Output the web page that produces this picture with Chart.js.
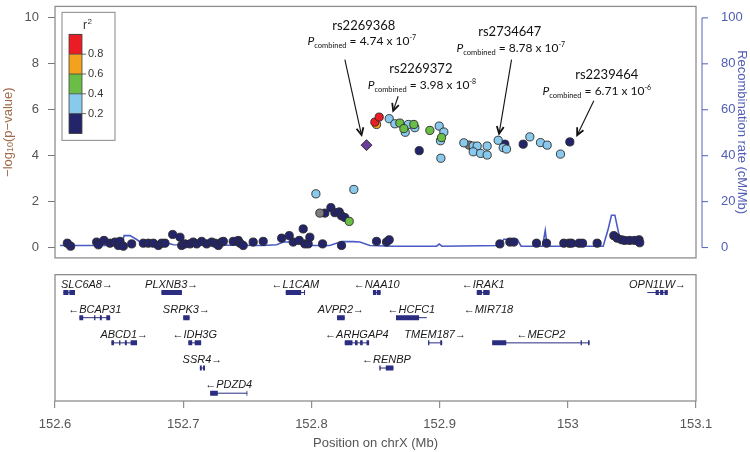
<!DOCTYPE html>
<html><head><meta charset="utf-8">
<script src="https://cdn.jsdelivr.net/npm/chart.js@4.4.1/dist/chart.umd.min.js"></script>
<style>html,body{margin:0;padding:0;background:#fff;}#wrap{width:750px;height:452px;position:relative;}</style>
</head><body><div id="wrap"><canvas id="c" width="750" height="452"></canvas></div>
<script>
// ---------------- DATA ----------------
const xTickValues = [152.6, 152.7, 152.8, 152.9, 153.0, 153.1];
const logPTicks = [0, 2, 4, 6, 8, 10];
const recombTicks = [0, 20, 40, 60, 80, 100];
const r2LegendTicks = ['0.8', '0.6', '0.4', '0.2'];

// r2 < 0.2 (navy)
const navyPos = [152.6096,152.6122,152.6325,152.6338,152.6382,152.6429,152.6468,152.6494,152.6507,152.6533,
  152.6598,152.6689,152.6728,152.6767,152.6806,152.6832,152.6858,
  152.6918,152.6975,152.6988,152.7014,152.7053,152.7078,152.7105,152.7144,152.7183,152.7222,152.7248,152.7274,152.7300,152.7313,
  152.7390,152.7429,152.7443,152.7468,152.7546,152.7624,
  152.7768,152.7827,152.7858,152.7905,152.7936,152.7949,152.7975,152.7988,152.8087,152.8235,
  152.8105,152.8152,152.8183,152.8217,152.8235,152.8261,
  152.8508,152.8586,152.8607,152.8841,
  152.9470,152.9509,152.9548,152.9579,152.9652,
  152.9756,152.9834,152.9969,153.0010,153.0016,153.0029,153.0088,153.0115,153.0229,
  153.0359,153.0385,153.0419,153.0444,153.0483,153.0522,153.0556,153.0561];
const navyLogP = [0.19,0.06,0.24,0.12,0.31,0.19,0.24,0.09,0.27,0.06,
  0.16,0.19,0.19,0.19,0.09,0.19,0.19,
  0.57,0.45,0.09,0.16,0.16,0.24,0.16,0.27,0.16,0.24,0.19,0.09,0.24,0.27,
  0.27,0.31,0.19,0.09,0.24,0.27,
  0.41,0.52,0.24,0.31,0.81,0.16,0.16,0.45,0.16,0.09,
  1.50,1.74,1.52,1.55,1.38,1.31,
  0.27,0.24,0.34,4.22,
  0.16,4.50,0.24,0.24,4.50,
  0.19,0.19,0.19,0.19,4.60,0.19,0.19,0.19,0.19,
  0.52,0.41,0.34,0.31,0.31,0.31,0.34,0.21];
// 0.2 - 0.4 (light blue)
const lightBluePos = [152.8035,152.8331,152.8607,152.8651,152.8732,152.8756,152.8807,152.8997,152.9033,152.9007,152.9010,
  152.9189,152.9262,152.9293,152.9262,152.9320,152.9371,152.9371,152.9457,152.9496,152.9522,152.9704,152.9787,152.9839,152.9943];
const lightBlueLogP = [2.34,2.53,5.61,5.39,5.02,5.36,5.22,5.29,5.03,4.65,3.89,
  4.56,4.42,4.42,4.17,4.10,4.42,4.03,4.67,4.35,4.29,4.82,4.57,4.46,4.07];
// 0.4 - 0.6 (green)
const greenPos = [152.8295,152.8690,152.8721,152.8799,152.8924,152.9015];
const greenLogP = [1.14,5.42,5.18,5.36,5.10,4.79];
// 0.6 - 0.8 (orange)
const orangePos = [152.8508];
const orangeLogP = [5.36];
// 0.8 - 1 (red)
const redPos = [152.8495,152.8529];
const redLogP = [5.46,5.68];
// no LD information (grey)
const greyPos = [152.8066,152.9231];
const greyLogP = [1.50,4.46];
// reference SNP (purple diamond)
const refPos = [152.8430];
const refLogP = [4.46];

// recombination rate (cM/Mb)
const recombPos = [152.6039,152.6520,152.6539,152.6585,152.6637,152.6676,152.6884,152.6923,152.7624,152.7729,152.7781,152.7884,152.7920,
  152.8014,152.8144,152.8235,152.8326,152.8378,152.8456,152.8638,152.8976,152.8997,152.9018,152.9470,152.9501,152.9605,152.9636,
  152.9803,152.9824,152.9839,153.0276,153.0315,153.0341,153.0367,153.0401,153.0432,153.0562];
const recombRate = [0.9,0.9,5.2,5.2,3.5,1.9,1.9,1.2,0.9,1.2,2.4,2.4,1.5,
  0.9,0.9,2.6,2.6,2.4,0.9,0.6,0.6,1.5,0.6,0.9,3.6,3.6,0.6,
  0.6,7.4,0.6,0.6,8.1,14.1,14.1,5.2,2.6,2.4];

// genes
const geneNames  = ['SLC6A8','PLXNB3','L1CAM','NAA10','IRAK1','OPN1LW','BCAP31','SRPK3','AVPR2','HCFC1','MIR718','ABCD1','IDH3G','ARHGAP4','TMEM187','MECP2','SSR4','RENBP','PDZD4'];
const geneStrand = ['+','+','-','-','-','+','-','+','+','-','-','+','-','-','+','-','+','-','-'];
const geneRow    = [1,1,1,1,1,1,2,2,2,2,2,3,3,3,3,3,4,4,5];
const geneStart  = [152.6065,152.683,152.780,152.848,152.929,153.062,152.619,152.700,152.820,152.866,152.9378,152.644,152.704,152.826,152.891,152.941,152.713,152.853,152.721];
const geneEnd    = [152.6156,152.699,152.795,152.854,152.939,153.078,152.643,152.705,152.826,152.890,152.9384,152.664,152.714,152.845,152.902,153.017,152.717,152.864,152.750];
const geneExons  = [
  [[152.6065,152.6105],[152.6112,152.6156]],
  [[152.683,152.699]],
  [[152.780,152.792],[152.7942,152.795]],
  [[152.848,152.8505],[152.851,152.854]],
  [[152.929,152.933],[152.934,152.939]],
  [[153.0618,153.0623],[153.0685,153.071],[153.072,153.0745],[153.0755,153.078]],
  [[152.619,152.622],[152.6305,152.6315],[152.635,152.6365],[152.640,152.643]],
  [[152.700,152.705]],
  [[152.820,152.826]],
  [[152.866,152.884],[152.8895,152.890]],
  [[152.9378,152.9384]],
  [[152.644,152.646],[152.650,152.651],[152.6545,152.656],[152.659,152.664]],
  [[152.704,152.707],[152.709,152.714]],
  [[152.826,152.832],[152.834,152.836],[152.838,152.840],[152.843,152.845]],
  [[152.891,152.892],[152.9005,152.902]],
  [[152.941,152.952],[153.010,153.011],[153.0158,153.017]],
  [[152.713,152.7145],[152.7155,152.717]],
  [[152.853,152.854],[152.858,152.864]],
  [[152.721,152.727],[152.7494,152.750]]
];

// annotations
const annotSnp   = ['rs2269368','rs2269372','rs2734647','rs2239464'];
const annotPVal  = ['4.74','3.98','8.78','6.71'];
const annotPExp  = ['-7','-8','-7','-6'];
const annotNameX = [152.8409,152.8854,152.9548,153.0304];
const annotNameY = [9.66,7.80,9.40,7.54];
const annotPX    = [152.8393,152.8862,152.9556,153.0226];
const annotPY    = [9.00,7.08,8.71,6.82];
const arrowFromX = [152.8261,152.8677,152.9561,153.0203];
const arrowFromY = [8.18,6.59,8.18,6.39];
const arrowToX   = [152.8391,152.8638,152.9464,153.0073];
const arrowToY   = [4.90,5.95,4.96,4.89];

// ---------------- STYLE / LAYOUT ----------------
const FF = '"Liberation Sans", Arial, sans-serif';
const AF = 'Lato, "Liberation Sans", sans-serif';
const C_NAVY = '#24246b', C_LB = '#88c9ec', C_GREEN = '#6abd45', C_ORANGE = '#f4a21e', C_RED = '#ec1c24', C_GREY = '#7d7d7d', C_PURPLE = '#6a3d9a';
const C_RECOMB = '#4a5bc4', C_GENE = '#2b2d80', C_FRAME = '#8e8e8e';
const TOP_PANEL_BOTTOM = -0.45;   // in -log10 p units
const GENE_PANEL_TOP = 0.29;      // in gene-row units

function pts(xs, ys) { return xs.map((x, i) => ({x: x, y: ys[i]})); }
function ptDs(label, xs, ys, color, order, style, radius) {
  return {type: 'scatter', label: label, data: pts(xs, ys), yAxisID: 'y', order: order,
    backgroundColor: color, borderColor: '#2a2a2a', borderWidth: 0.9,
    pointStyle: style || 'circle', pointRadius: radius || 4.1, pointHoverRadius: radius || 4.1};
}
const intronData = [], exonData = [];
geneNames.forEach((g, i) => {
  intronData.push({x: geneStart[i], y: geneRow[i]}, {x: geneEnd[i], y: geneRow[i]}, {x: geneEnd[i], y: null});
  geneExons[i].forEach(e => { exonData.push({x: e[0], y: geneRow[i]}, {x: e[1], y: geneRow[i]}, {x: e[1], y: null}); });
});

function noPad(s) { s.paddingTop = 0; s.paddingBottom = 0; s.paddingLeft = 0; s.paddingRight = 0; }

function drawArrow(ctx, x1, y1, x2, y2) {
  ctx.lineWidth = 1.1;
  ctx.beginPath(); ctx.moveTo(x1, y1); ctx.lineTo(x2, y2); ctx.stroke();
  const ang = Math.atan2(y2 - y1, x2 - x1), L = 8, w = 0.45;
  ctx.lineWidth = 1.8;
  ctx.beginPath();
  ctx.moveTo(x2 - L * Math.cos(ang - w), y2 - L * Math.sin(ang - w));
  ctx.lineTo(x2, y2);
  ctx.lineTo(x2 - L * Math.cos(ang + w), y2 - L * Math.sin(ang + w));
  ctx.stroke();
}
function drawPLine(ctx, cx, cy, val, exp) {
  const parts = [
    {t: 'P', f: 'italic 12px ' + AF, dy: 0},
    {t: 'combined', f: '7.5px ' + AF, dy: 3},
    {t: ' = ' + val + ' x 10', f: '12px ' + AF, dy: 0},
    {t: exp, f: '7px ' + AF, dy: -5}
  ];
  let total = 0;
  parts.forEach(p => { ctx.font = p.f; p.w = ctx.measureText(p.t).width; total += p.w; });
  let x = cx - total / 2;
  ctx.textAlign = 'left'; ctx.textBaseline = 'alphabetic';
  parts.forEach(p => { ctx.font = p.f; ctx.fillText(p.t, x, cy + 4 + p.dy); x += p.w; });
}

const locusPlugin = {
  id: 'locus',
  beforeDatasetsDraw(chart) {
    const {ctx, chartArea: a, scales} = chart;
    const tb = scales.y.getPixelForValue(TOP_PANEL_BOTTOM);
    const gt = scales.yG.getPixelForValue(GENE_PANEL_TOP);
    ctx.save();
    ctx.strokeStyle = C_FRAME; ctx.lineWidth = 1.3;
    ctx.strokeRect(a.left, a.top, a.right - a.left, tb - a.top);
    ctx.strokeRect(a.left, gt, a.right - a.left, a.bottom - gt);
    ctx.restore();
  },
  afterDatasetsDraw(chart) {
    const {ctx, chartArea: a, scales} = chart;
    const xs = scales.x, ys = scales.y, yr = scales.yR, yg = scales.yG;
    const tb = ys.getPixelForValue(TOP_PANEL_BOTTOM);
    const midTop = (a.top + tb) / 2;
    ctx.save();
    // gene labels
    ctx.font = 'italic 11px ' + FF; ctx.fillStyle = '#1a1a1a'; ctx.textBaseline = 'alphabetic'; ctx.textAlign = 'left';
    geneNames.forEach((g, i) => {
      const txt = geneStrand[i] === '+' ? g + '\u2192' : '\u2190' + g;
      const w = ctx.measureText(txt).width;
      const cx = (xs.getPixelForValue(geneStart[i]) + xs.getPixelForValue(geneEnd[i])) / 2;
      let left = cx - w / 2;
      left = Math.max(a.left + 6, Math.min(a.right - 6 - w, left));
      ctx.fillText(txt, left, yg.getPixelForValue(geneRow[i]) - 5);
    });
    // right axis line and ticks
    const rx = a.right + 6;
    ctx.strokeStyle = '#5262b8'; ctx.lineWidth = 1;
    ctx.beginPath(); ctx.moveTo(rx, yr.getPixelForValue(recombTicks[0])); ctx.lineTo(rx, yr.getPixelForValue(recombTicks[recombTicks.length - 1])); ctx.stroke();
    recombTicks.forEach(v => { const py = yr.getPixelForValue(v); ctx.beginPath(); ctx.moveTo(rx, py); ctx.lineTo(rx + 6, py); ctx.stroke(); });
    // axis titles
    ctx.save();
    ctx.translate(8, midTop); ctx.rotate(-Math.PI / 2);
    ctx.fillStyle = '#a06b4b'; ctx.textBaseline = 'middle';
    const parts = [{t: '\u2212log', f: '13px ' + FF, dy: 0}, {t: '10', f: '9px ' + FF, dy: 3}, {t: '(p\u2212value)', f: '13px ' + FF, dy: 0}];
    let tw = 0; parts.forEach(p => { ctx.font = p.f; p.w = ctx.measureText(p.t).width; tw += p.w; });
    let tx = -tw / 2; ctx.textAlign = 'left';
    parts.forEach(p => { ctx.font = p.f; ctx.fillText(p.t, tx, p.dy); tx += p.w; });
    ctx.restore();
    ctx.save();
    ctx.translate(742, midTop); ctx.rotate(Math.PI / 2);
    ctx.fillStyle = '#4f5db5'; ctx.font = '13px ' + FF; ctx.textAlign = 'center'; ctx.textBaseline = 'middle';
    ctx.fillText('Recombination rate (cM/Mb)', 0, 0);
    ctx.restore();
    // r2 legend
    const lx = a.left + 7, ly = a.top + 6;
    ctx.fillStyle = '#fff'; ctx.fillRect(lx, ly, 53, 128);
    ctx.strokeStyle = '#9a9a9a'; ctx.lineWidth = 1.2; ctx.strokeRect(lx, ly, 53, 128);
    const bx = lx + 7, by = ly + 22, bw = 13, bh = 19.8;
    [C_RED, C_ORANGE, C_GREEN, C_LB, C_NAVY].forEach((c, i) => { ctx.fillStyle = c; ctx.fillRect(bx, by + i * bh, bw, bh); });
    ctx.strokeStyle = '#444'; ctx.lineWidth = 0.8;
    for (let i = 0; i <= 5; i++) { ctx.beginPath(); ctx.moveTo(bx, by + i * bh); ctx.lineTo(bx + bw, by + i * bh); ctx.stroke(); }
    ctx.strokeRect(bx, by, bw, bh * 5);
    ctx.fillStyle = '#333'; ctx.font = '11px ' + FF; ctx.textAlign = 'left'; ctx.textBaseline = 'middle';
    r2LegendTicks.forEach((t, i) => {
      const py = by + (i + 1) * bh;
      ctx.beginPath(); ctx.moveTo(bx + bw, py); ctx.lineTo(bx + bw + 4, py); ctx.stroke();
      ctx.fillText(t, bx + bw + 6, py);
    });
    ctx.font = '12px ' + FF; ctx.fillText('r', lx + 21, ly + 13);
    ctx.font = '8px ' + FF; ctx.fillText('2', lx + 25.5, ly + 9);
    // annotations
    ctx.fillStyle = '#111'; ctx.strokeStyle = '#111';
    annotSnp.forEach((s, i) => {
      ctx.font = '13px ' + AF; ctx.textAlign = 'center'; ctx.textBaseline = 'middle';
      ctx.fillText(s, xs.getPixelForValue(annotNameX[i]), ys.getPixelForValue(annotNameY[i]));
      drawPLine(ctx, xs.getPixelForValue(annotPX[i]), ys.getPixelForValue(annotPY[i]), annotPVal[i], annotPExp[i]);
      drawArrow(ctx, xs.getPixelForValue(arrowFromX[i]), ys.getPixelForValue(arrowFromY[i]),
                xs.getPixelForValue(arrowToX[i]), ys.getPixelForValue(arrowToY[i]));
    });
    ctx.restore();
  }
};

Chart.defaults.font.family = FF;
new Chart(document.getElementById('c'), {
  type: 'scatter',
  data: {
    datasets: [
      {type: 'line', label: 'intron', data: intronData, yAxisID: 'yG', borderColor: C_GENE, borderWidth: 1, pointRadius: 0, spanGaps: false, order: 30, showLine: true},
      {type: 'line', label: 'exon', data: exonData, yAxisID: 'yG', borderColor: C_GENE, borderWidth: 5, borderCapStyle: 'butt', pointRadius: 0, spanGaps: false, order: 29, showLine: true},
      {type: 'line', label: 'recomb', data: pts(recombPos, recombRate), yAxisID: 'yR', borderColor: C_RECOMB, borderWidth: 1.6, pointRadius: 0, tension: 0, order: 20, showLine: true},
      ptDs('navy', navyPos, navyLogP, C_NAVY, 10),
      ptDs('grey', greyPos, greyLogP, C_GREY, 9),
      ptDs('lightblue', lightBluePos, lightBlueLogP, C_LB, 8),
      ptDs('green', greenPos, greenLogP, C_GREEN, 7),
      ptDs('orange', orangePos, orangeLogP, C_ORANGE, 6),
      ptDs('red', redPos, redLogP, C_RED, 5),
      ptDs('ref', refPos, refLogP, C_PURPLE, 4, 'rectRot', 5.5)
    ]
  },
  options: {
    responsive: false, animation: false, devicePixelRatio: 1, events: [],
    layout: {padding: {top: 1, left: 0, right: 0, bottom: 0}},
    plugins: {legend: {display: false}, tooltip: {enabled: false}},
    scales: {
      x: {type: 'linear', position: 'bottom', min: 152.6, max: 153.1,
        afterBuildTicks: s => { s.ticks = xTickValues.map(v => ({value: v})); },
        afterFit: s => { s.height = 51; noPad(s); },
        grid: {display: true, drawOnChartArea: false, drawTicks: true, tickLength: 7, color: C_FRAME, lineWidth: 1.2},
        border: {display: false},
        ticks: {color: '#555', font: {size: 13, family: FF}, padding: 9, maxRotation: 0, autoSkip: false,
          callback: v => String(Math.round(v * 10) / 10)},
        title: {display: true, text: 'Position on chrX (Mb)', color: '#555', font: {size: 13, family: FF}, padding: {top: 0, bottom: 1}}
      },
      y: {type: 'linear', position: 'left', min: -6.68, max: 10.5,
        afterBuildTicks: s => { s.ticks = logPTicks.map(v => ({value: v})); },
        afterFit: s => { s.width = 55; noPad(s); },
        grid: {display: true, drawOnChartArea: false, drawTicks: true, tickLength: 7, color: '#777', lineWidth: 1},
        border: {display: false},
        ticks: {color: '#555', font: {size: 13, family: FF}, padding: 9, callback: v => String(v)}
      },
      yR: {type: 'linear', position: 'right', min: -66.8, max: 105,
        afterBuildTicks: s => { s.ticks = recombTicks.map(v => ({value: v})); },
        afterFit: s => { s.width = 54; noPad(s); },
        grid: {display: false},
        border: {display: false},
        ticks: {color: '#4f5db5', font: {size: 13, family: FF}, padding: 17, callback: v => String(v)}
      },
      yG: {type: 'linear', display: false, reverse: true, min: -10.37, max: 5.31}
    }
  },
  plugins: [locusPlugin]
});
</script>
</body></html>
